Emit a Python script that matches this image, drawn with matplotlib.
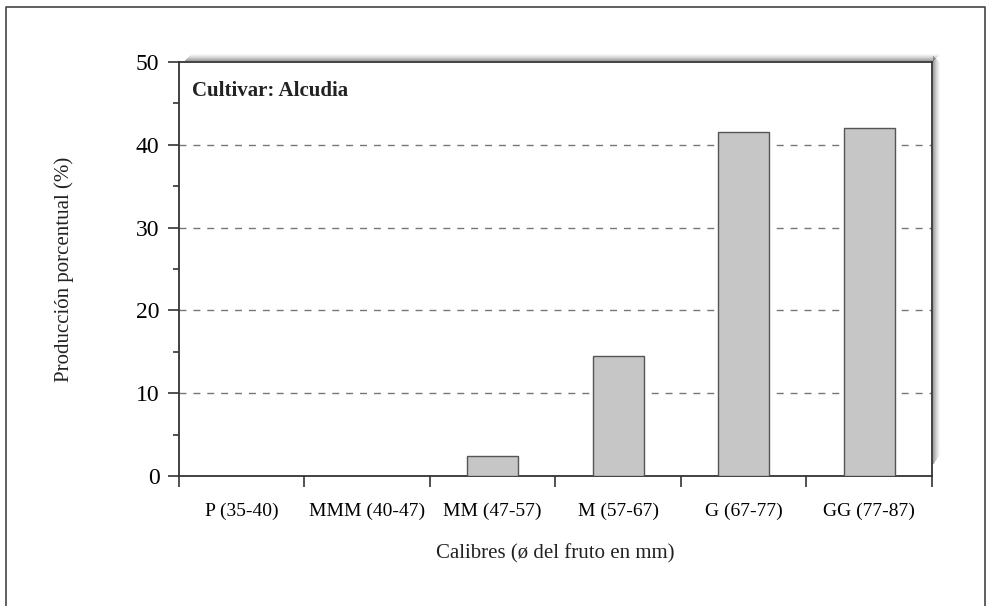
import matplotlib
matplotlib.use("Agg")
import matplotlib.pyplot as plt
from matplotlib.patches import Rectangle
from matplotlib.lines import Line2D
import numpy as np

# data
calibres = ['P (35-40)', 'MMM (40-47)', 'MM (47-57)', 'M (57-67)', 'G (67-77)', 'GG (77-87)']
produccion = [0.0, 0.0, 2.4, 14.5, 41.5, 42.0]
yticks = [0, 10, 20, 30, 40, 50]

plt.rcParams['font.family'] = ['Liberation Serif', 'DejaVu Serif']

W, H = 987, 606
fig = plt.figure(figsize=(W / 100, H / 100), dpi=100)
fig.patch.set_facecolor('white')


def px(x0, y0, x1, y1):
    # pixel box (top-left origin) -> figure fraction rect
    return [x0 / W, 1 - y1 / H, (x1 - x0) / W, (y1 - y0) / H]


def shade(x0, y0, x1, y1, a):
    l, b, w, h = px(x0, y0, x1, y1)
    fig.patches.append(Rectangle((l, b), w, h, transform=fig.transFigure,
                                 facecolor='#555555', alpha=a, edgecolor='none', zorder=0))


ax = fig.add_axes(px(179, 62, 932, 476))

x = np.arange(len(calibres))
ax.bar(x, produccion, width=0.41, color='#c6c6c6', edgecolor='#555555',
       linewidth=1.0, zorder=3)

ax.set_xlim(-0.5, len(calibres) - 0.5)
ax.set_ylim(0, 50)

# category boundaries get the tick marks, names sit in between
ax.set_xticks(np.arange(-0.5, len(calibres), 1.0))
ax.set_xticklabels([])
ax.set_xticks(x, minor=True)
ax.set_xticklabels(calibres, minor=True, fontsize=14)
ax.tick_params(axis='x', which='major', direction='out', length=8, width=1.2,
               color='#333333')
ax.tick_params(axis='x', which='minor', length=0, pad=19)

ax.set_yticks(yticks)
ax.set_yticklabels([str(v) for v in yticks], fontsize=17)
ax.set_yticks(np.arange(5, 50, 10), minor=True)
ax.tick_params(axis='y', which='major', direction='out', length=8, width=1.2,
               color='#333333', pad=6)
ax.tick_params(axis='y', which='minor', direction='out', length=4, width=1.2,
               color='#333333')

for v in yticks[1:-1]:
    ax.axhline(v, color='#777777', linewidth=1.0, linestyle=(0, (5, 5)), zorder=1)

for s in ax.spines.values():
    s.set_linewidth(1.3)
    s.set_color('#333333')

ax.text(0.017, 0.93, 'Cultivar: Alcudia', transform=ax.transAxes,
        fontsize=15, fontweight='bold', va='center', ha='left', color='#222222')

ax.set_ylabel('Producción porcentual (%)', fontsize=15, color='#222222')
ax.yaxis.set_label_coords(-0.14, 0.5)
ax.set_xlabel('Calibres (ø del fruto en mm)', fontsize=15, color='#222222')
ax.xaxis.set_label_coords(0.5, -0.165)

# soft shadow along the top and right of the plot box
alphas = [0.55, 0.45, 0.35, 0.26, 0.18, 0.10, 0.05]
for i, a in enumerate(alphas):
    shade(185 + i, 61 - i - 1, 933 + i + 1, 61 - i, a)
    shade(933 + i, 56 + i, 933 + i + 1, 464 - i * 1.5, a)

# outer frame (open at the bottom)
frame_x = [6 / W, 6 / W, 985 / W, 985 / W]
frame_y = [0.0, 1 - 7 / H, 1 - 7 / H, 0.0]
fig.lines.append(Line2D(frame_x, frame_y, transform=fig.transFigure,
                        color='#444444', linewidth=1.2))

fig.savefig('out.png', dpi=100)
